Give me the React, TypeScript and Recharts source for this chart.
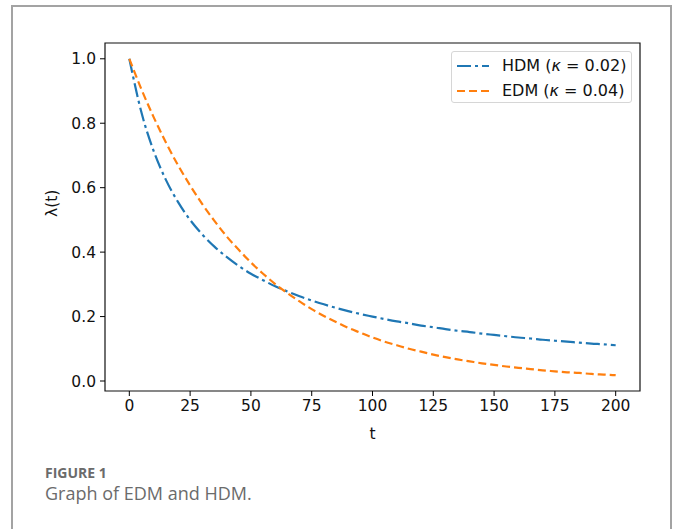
import React from 'react';
import {
  LineChart,
  Line,
  XAxis,
  YAxis,
  ReferenceArea,
} from 'recharts';

// time steps
const tValues = [
  0, 5, 10, 15, 20, 25, 30, 35, 40, 45, 50, 55, 60, 65, 70, 75, 80, 85, 90, 95, 100,
  105, 110, 115, 120, 125, 130, 135, 140, 145, 150, 155, 160, 165, 170, 175, 180, 185, 190, 195, 200,
];

// blue dash-dot curve
const hdmValues = [
  1, 0.833, 0.714, 0.625, 0.556, 0.5, 0.455, 0.417, 0.385, 0.357, 0.333, 0.313, 0.294, 0.278, 0.263, 0.25,
  0.238, 0.227, 0.217, 0.208, 0.2, 0.192, 0.185, 0.179, 0.172, 0.167, 0.161, 0.156, 0.152, 0.147, 0.143,
  0.139, 0.135, 0.132, 0.128, 0.125, 0.122, 0.119, 0.116, 0.114, 0.111,
];

// orange dashed curve
const edmValues = [
  1, 0.905, 0.819, 0.741, 0.67, 0.607, 0.549, 0.497, 0.449, 0.407, 0.368, 0.333, 0.301, 0.273, 0.247, 0.223,
  0.202, 0.183, 0.165, 0.15, 0.135, 0.122, 0.111, 0.1, 0.091, 0.082, 0.074, 0.067, 0.061, 0.055, 0.05,
  0.045, 0.041, 0.037, 0.033, 0.03, 0.027, 0.025, 0.022, 0.02, 0.018,
];

const xTicks = [0, 25, 50, 75, 100, 125, 150, 175, 200];
const yTicks = [0, 0.2, 0.4, 0.6, 0.8, 1.0];

const data = tValues.map((t, i) => ({ t, hdm: hdmValues[i], edm: edmValues[i] }));

const X_DOMAIN = [-10, 210];
const Y_DOMAIN = [-0.031, 1.049];

const FONT = "'DejaVu Sans', Verdana, sans-serif";
const CAPTION_FONT = "'Open Sans', sans-serif";
const TICK_SIZE = 15.5;
const HDM_DASH = '14 4 3 4';
const EDM_DASH = '8 4';

const legendRows = [
  { name: 'HDM', k: '0.02', color: '#1f77b4', dash: HDM_DASH },
  { name: 'EDM', k: '0.04', color: '#ff7f0e', dash: EDM_DASH },
];

const LegendBox = () => (
  <div
    style={{
      position: 'absolute',
      left: 451,
      top: 51,
      width: 181,
      height: 52,
      boxSizing: 'border-box',
      border: '1px solid #d6d6d6',
      borderRadius: 3,
      background: 'rgba(255,255,255,0.8)',
      padding: '1px 5px',
      fontFamily: FONT,
      fontSize: 16,
      color: '#111',
    }}
  >
    {legendRows.map((row) => (
      <div key={row.name} style={{ display: 'flex', alignItems: 'center', height: 25 }}>
        <svg width={32} height={10} style={{ marginRight: 13, flexShrink: 0 }}>
          <line x1={0} y1={5} x2={32} y2={5} stroke={row.color} strokeWidth={2.2} strokeDasharray={row.dash} />
        </svg>
        <span style={{ whiteSpace: 'nowrap' }}>
          {row.name} (<i>κ</i> = {row.k})
        </span>
      </div>
    ))}
  </div>
);

export default function App() {
  return (
    <div style={{ position: 'absolute', left: 0, top: 0, width: 680, height: 529, background: '#fff', overflow: 'hidden' }}>
      {/* outer figure frame */}
      <div
        style={{
          position: 'absolute',
          left: 11,
          top: 5,
          width: 661,
          height: 600,
          border: '2px solid #a3a3a3',
          boxSizing: 'border-box',
        }}
      />
      <div style={{ position: 'absolute', left: 0, top: 0, fontFamily: FONT }}>
        <LineChart
          width={680}
          height={529}
          data={data}
          margin={{ top: 43, right: 40, bottom: 108, left: 45 }}
        >
          <XAxis
            dataKey="t"
            type="number"
            domain={X_DOMAIN}
            ticks={xTicks}
            allowDataOverflow
            height={30}
            axisLine={false}
            tickSize={5}
            tickMargin={4}
            tickLine={{ stroke: '#000' }}
            tick={{ fill: '#111', fontSize: TICK_SIZE, fontFamily: FONT }}
            label={{ value: 't', position: 'insideBottom', offset: -18, fill: '#111', fontSize: TICK_SIZE, fontFamily: FONT }}
          />
          <YAxis
            type="number"
            domain={Y_DOMAIN}
            ticks={yTicks}
            allowDataOverflow
            width={60}
            axisLine={false}
            tickSize={5}
            tickMargin={4}
            tickLine={{ stroke: '#000' }}
            tick={{ fill: '#111', fontSize: TICK_SIZE, fontFamily: FONT }}
            tickFormatter={(v: number) => v.toFixed(1)}
            label={{ value: 'λ(t)', angle: -90, position: 'insideLeft', offset: 6, fill: '#111', fontSize: TICK_SIZE, fontFamily: FONT }}
          />
          <ReferenceArea
            x1={X_DOMAIN[0]}
            x2={X_DOMAIN[1]}
            y1={Y_DOMAIN[0]}
            y2={Y_DOMAIN[1]}
            fill="none"
            stroke="#111"
            strokeWidth={1.2}
            ifOverflow="visible"
          />
          <Line
            dataKey="hdm"
            type="monotone"
            stroke="#1f77b4"
            strokeWidth={2.2}
            strokeDasharray={HDM_DASH}
            dot={false}
            isAnimationActive={false}
          />
          <Line
            dataKey="edm"
            type="monotone"
            stroke="#ff7f0e"
            strokeWidth={2.2}
            strokeDasharray={EDM_DASH}
            dot={false}
            isAnimationActive={false}
          />
        </LineChart>
      </div>
      <LegendBox />
      <div
        style={{
          position: 'absolute',
          left: 45,
          top: 465,
          fontFamily: CAPTION_FONT,
          fontWeight: 700,
          fontSize: 14,
          lineHeight: '16px',
          color: '#6b6b6b',
        }}
      >
        FIGURE 1
      </div>
      <div
        style={{
          position: 'absolute',
          left: 45,
          top: 482,
          fontFamily: CAPTION_FONT,
          fontSize: 18,
          lineHeight: '22px',
          color: '#6b6b6b',
        }}
      >
        Graph of EDM and HDM.
      </div>
    </div>
  );
}
